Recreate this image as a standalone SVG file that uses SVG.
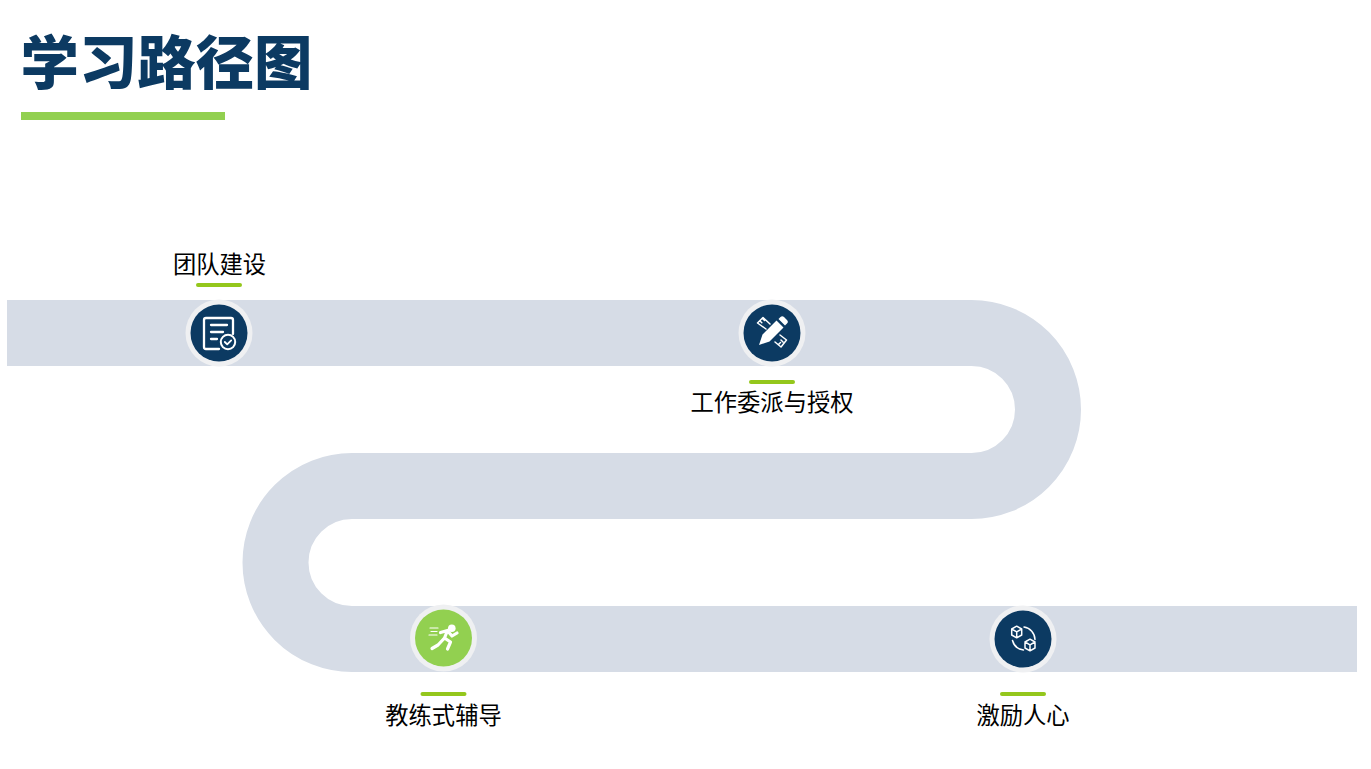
<svg xmlns="http://www.w3.org/2000/svg" width="1371" height="769" viewBox="0 0 1371 769">
<style>
.label{font-family:"Noto Sans CJK SC","Liberation Sans",sans-serif;font-size:23.3px;fill:#000;text-anchor:middle}
.title{font-family:"Noto Sans CJK SC","Liberation Sans",sans-serif;font-size:58.400px;font-weight:900;fill:#0c3a62}
.tick{fill:#94c71c}
.ring{fill:#eff0f2}
.navy{fill:#0c3a62}
.green{fill:#92d050}
.ln{fill:none;stroke:#fff;stroke-width:2.300;stroke-linecap:round;stroke-linejoin:round}
.thin{fill:none;stroke:#fff;stroke-width:1.500;stroke-linecap:round;stroke-linejoin:round}
.run{fill:none;stroke:#fff;stroke-width:3.200;stroke-linecap:round;stroke-linejoin:round}
.wf{fill:#fff}
</style>
<rect width="1371" height="769" fill="#fff"/>
<g id="header">
<text class="title" x="20.500" y="84">学习路径图</text>
<rect x="21" y="112" width="204" height="8" fill="#92d050"/>
</g>
<g id="connectors">
<path d="M7 333H971.500A76.500 76.500 0 0 1 971.500 486H352A76.500 76.500 0 0 0 352 639H1357" fill="none" stroke="#d6dce6" stroke-width="66"/>
</g>
<g id="node-1">
<text class="label" x="219.500" y="273">团队建设</text>
<rect class="tick" x="196" y="283" width="46" height="4" rx="2"/>
<circle class="ring" cx="219" cy="333" r="33.500"/>
<circle class="navy" cx="219" cy="333" r="28.500"/>
<path class="ln" d="M219 349H206a2 2 0 0 1-2-2V320a2 2 0 0 1 2-2H231a2 2 0 0 1 2 2V334"/>
<path class="ln" d="M211 325H227M211 332H223M211 339H217"/>
<circle class="ln" cx="228" cy="342" r="7.200" style="stroke-width:2"/>
<path class="ln" d="M224.800 342l2.400 2.400 4-4" style="stroke-width:1.800"/>
</g>
<g id="node-2">
<circle class="ring" cx="772" cy="333" r="33.500"/>
<circle class="navy" cx="772" cy="333" r="28.500"/>
<path class="thin" d="M766 329L757.500 323 763 317.500 770 324M759.800 320.700l2 2M762.500 318.500l2 2M775 342l6 5 5.500-7-6.500-5M778.500 344.500l2-2M783 342l-2-2"/>
<path class="wf" d="M759 345l3.500-10.500 14-14 7 7-14 14zM778.500 319l2-2a2.500 2.500 0 0 1 3.500 0l3 3a2.500 2.500 0 0 1 0 3.500l-2 2z"/>
<rect class="tick" x="749" y="380" width="46" height="4" rx="2"/>
<text class="label" x="772" y="411">工作委派与授权</text>
</g>
<g id="node-3">
<circle class="ring" cx="443.500" cy="638" r="33.500"/>
<circle class="green" cx="443.500" cy="638" r="28.500"/>
<circle class="wf" cx="451.800" cy="628.300" r="3.800"/>
<path class="run" d="M440.500 632.500L447.500 630.500 444.500 638 438 645 432 648.500M444.500 638L450.500 642 447.500 649M449 632.500L452 636 457 633"/>
<path class="thin" d="M430 628H438M431 631.500H437M429 635H437" style="stroke-width:1.200"/>
<rect class="tick" x="420.500" y="692" width="46" height="4" rx="2"/>
<text class="label" x="443.500" y="724">教练式辅导</text>
</g>
<g id="node-4">
<circle class="ring" cx="1023" cy="639" r="33.500"/>
<circle class="navy" cx="1023" cy="639" r="28.500"/>
<path class="thin" d="M1011.700 629l5-2.800 5 2.800v6l-5 2.800-5-2.800zM1011.700 629l5 2.800 5-2.800M1016.700 631.800v6"/>
<path class="thin" d="M1025 642l5-2.800 5 2.800v6l-5 2.800-5-2.800zM1025 642l5 2.800 5-2.800M1030 644.800v6"/>
<path class="thin" d="M1024 627a13 13 0 0 1 11 12.500M1012.500 640.500a13 13 0 0 0 11 9.500"/>
<rect class="tick" x="1000" y="692" width="46" height="4" rx="2"/>
<text class="label" x="1023" y="724">激励人心</text>
</g>
</svg>
